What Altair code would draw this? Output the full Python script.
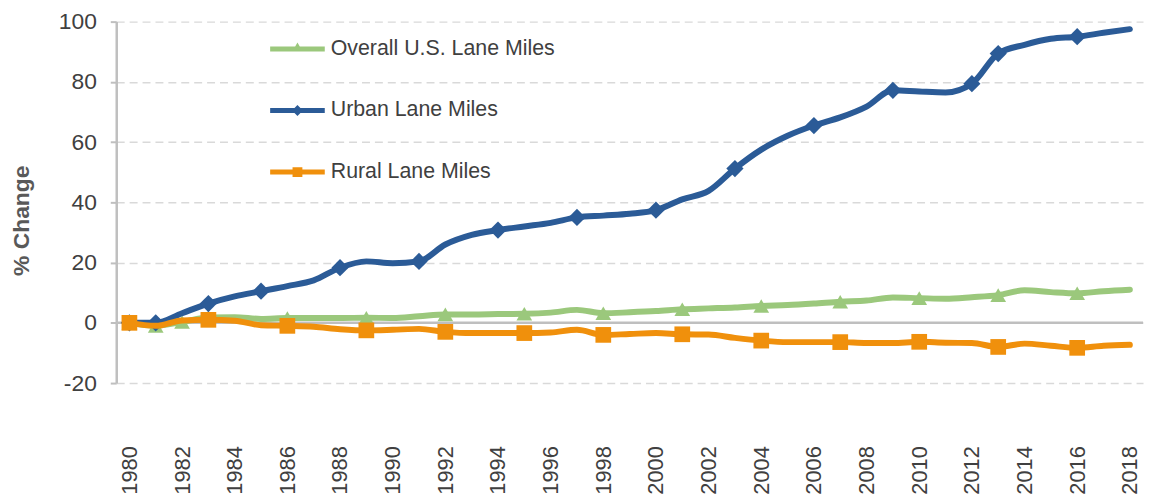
import altair as alt
import pandas as pd

years = list(range(1980, 2019))

series_names = ["Overall U.S. Lane Miles", "Urban Lane Miles", "Rural Lane Miles"]
series_colors = ["#9BC87C", "#2B5B97", "#F0900C"]

overall = [0, -1, 0.3, 1.8, 1.9, 1.3, 1.6, 1.6, 1.6, 1.7, 1.6, 2.2, 2.8, 2.8, 2.9, 3.0,
           3.4, 4.3, 3.2, 3.5, 3.9, 4.5, 4.8, 5.1, 5.6, 5.9, 6.4, 7.0, 7.4, 8.4, 8.2,
           8.0, 8.5, 9.2, 10.8, 10.2, 9.8, 10.5, 11.0]
urban = [0, 0, 3.2, 6.4, 8.8, 10.5, 12.2, 14.1, 18.3, 20.4, 19.8, 20.4, 26.0, 29.2, 30.8,
         32.0, 33.2, 35.0, 35.6, 36.2, 37.4, 41.0, 43.8, 51.2, 57.5, 62.1, 65.5, 68.2,
         71.8, 77.2, 76.8, 76.5, 79.4, 89.4, 92.3, 94.3, 95.0, 96.3, 97.5]
rural = [0, -1, 0.8, 1.0, 0.7, -0.8, -1.0, -1.3, -2.1, -2.5, -2.3, -2.0, -3.0, -3.4, -3.4,
         -3.4, -3.2, -2.3, -4.0, -3.7, -3.4, -3.8, -3.9, -5.0, -5.9, -6.4, -6.4, -6.4,
         -6.7, -6.7, -6.3, -6.6, -6.7, -8.0, -6.9, -7.6, -8.3, -7.6, -7.3]

overall_marker_years = [1980, 1981, 1982, 1983, 1986, 1989, 1992, 1995, 1998, 2001, 2004,
                        2007, 2010, 2013, 2016]
urban_marker_years = [1980, 1981, 1983, 1985, 1988, 1991, 1994, 1997, 2000, 2003, 2006,
                      2009, 2012, 2013, 2016]
rural_marker_years = [1980, 1983, 1986, 1989, 1992, 1995, 1998, 2001, 2004, 2007, 2010,
                      2013, 2016]

x_tick_labels = list(range(1980, 2019, 2))
y_ticks = [-20, 0, 20, 40, 60, 80, 100]

# legend symbols: line with the marker in the middle (normalised SVG paths)
legend_paths = [
    "M-1,-0.09 L1,-0.09 L1,0.09 L-1,0.09 Z M-0.19,0.09 L0,-0.24 L0.19,0.09 Z",
    "M-1,-0.09 L1,-0.09 L1,0.09 L-1,0.09 Z M-0.2,0 L0,-0.2 L0.2,0 L0,0.2 Z",
    "M-1,-0.09 L1,-0.09 L1,0.09 L-1,0.09 Z M-0.18,-0.18 L0.18,-0.18 L0.18,0.18 L-0.18,0.18 Z",
]

rows = []
for name, vals, marks in zip(series_names, [overall, urban, rural],
                             [overall_marker_years, urban_marker_years, rural_marker_years]):
    for yr, v in zip(years, vals):
        rows.append({"year": yr, "series": name, "value": v, "marker": yr in marks})
df = pd.DataFrame(rows)
zero_df = pd.DataFrame({"value": [0]})

FONT = "Liberation Sans"
TXT = "#404040"

x_enc = alt.X(
    "year:Q",
    scale=alt.Scale(domain=[1979.5, 2018.5], nice=False, zero=False),
    axis=alt.Axis(values=x_tick_labels, format="d", labelAngle=270, grid=False,
                  domain=False, ticks=False, tickSize=0, labelPadding=63,
                  labelFontSize=22, labelFont=FONT, labelColor=TXT, title=None),
)
y_axis = alt.Axis(values=y_ticks, labelExpr="'' + datum.value", grid=True,
                  gridDash=[8, 5], gridColor="#D9D9D9",
                  gridWidth=1.5, domainColor="#BFBFBF", domainWidth=2.5,
                  tickColor="#BFBFBF", tickSize=6, tickWidth=2, labelPadding=14,
                  labelFontSize=23, labelFont=FONT, labelColor=TXT,
                  title="% Change", titleFont=FONT, titleFontSize=23,
                  titleFontWeight="bold", titleColor="#595959", titleAngle=270,
                  titleBaseline="middle", titleAlign="center", titleX=-95, titleY=200)
y_scale = alt.Scale(domain=[-20, 100], nice=False, zero=False)
y_enc = alt.Y("value:Q", scale=y_scale, axis=y_axis)

zero_rule = alt.Chart(zero_df).mark_rule(color="#BFBFBF", strokeWidth=2.5).encode(y=y_enc)

layers = [zero_rule]
shapes = ["triangle-up", "diamond", "square"]
sizes = [250, 300, 250]
for name, col, shp, sz in zip(series_names, series_colors, shapes, sizes):
    sub = alt.Chart(df).transform_filter(alt.datum.series == name)
    line = sub.mark_line(color=col, strokeWidth=6, interpolate="monotone",
                         strokeCap="round", strokeJoin="round").encode(x=x_enc, y=y_enc)
    pts = sub.transform_filter(alt.datum.marker).mark_point(
        shape=shp, filled=True, size=sz, opacity=1, color=col, strokeWidth=1
    ).encode(x=x_enc, y=y_enc)
    layers += [line, pts]

leg = alt.Legend(orient="none", legendX=155, legendY=0, title=None, symbolSize=3025,
                 symbolStrokeWidth=0, symbolOpacity=1, labelFontSize=21.5, labelFont=FONT,
                 labelColor=TXT, labelOffset=6, rowPadding=24, padding=0, labelLimit=400)
legend_layer = alt.Chart(df).transform_filter("datum.year < 0").mark_point(
    filled=True
).encode(
    x=x_enc, y=y_enc,
    color=alt.Color("series:N", scale=alt.Scale(domain=series_names, range=series_colors),
                    legend=leg),
    shape=alt.Shape("series:N", scale=alt.Scale(domain=series_names, range=legend_paths),
                    legend=leg),
)
layers.append(legend_layer)

chart = alt.layer(*layers).properties(
    width=1034, height=364,
    autosize=alt.AutoSizeParams(type="none"),
    padding={"left": 109, "top": 12, "right": 1, "bottom": 113},
).configure_view(stroke=None)

chart.save("out.html", embed_options={"renderer": "svg", "actions": False})
